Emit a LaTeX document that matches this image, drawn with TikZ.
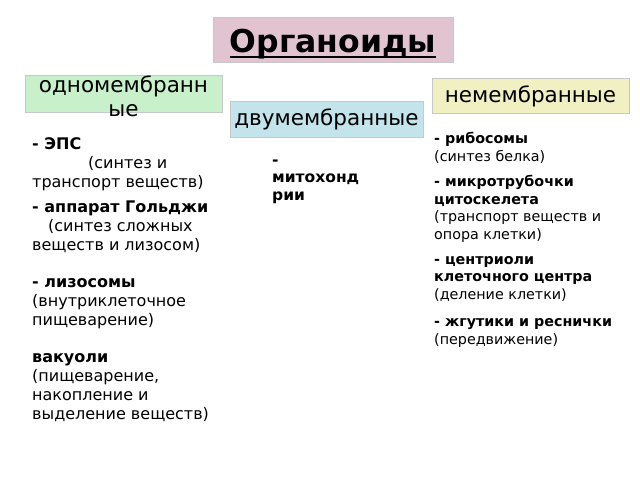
\documentclass[tikz,border=0pt]{standalone}
\usepackage{fontspec}
\setmainfont{DejaVu Sans}
\newcommand{\thickul}[1]{\setbox0\hbox{#1}\rlap{\rule[-6pt]{\wd0}{2pt}}\box0}
\definecolor{titlepink}{RGB}{226,196,208}
\definecolor{onegreen}{RGB}{200,240,202}
\definecolor{nonyellow}{RGB}{240,240,194}
\definecolor{twoblue}{RGB}{194,228,234}
\definecolor{boxline}{RGB}{200,200,200}

\begin{document}
\begin{tikzpicture}[x=1pt, y=-1pt,
		box/.style={draw=boxline, line width=0.8pt, inner sep=0pt},
		item/.style={anchor=base west, align=left, inner sep=0pt}]
		\useasboundingbox[fill=white] (0, 0) rectangle (640, 480);

		% headings
		\node[box, fill=titlepink, minimum width=240pt, minimum height=45pt] (title) at (333, 39.5) {};
		\node[anchor=base, inner sep=0pt, font=\fontsize{31.5}{34}\selectfont\bfseries] (titletxt) at (333, 52) {\thickul{Органоиды}};

		\node[box, fill=onegreen, minimum width=197pt, minimum height=37pt] (odno) at (123.5, 93.5) {};
		\node[align=center, font=\fontsize{21.5}{24}\selectfont] (odnotxt) at (123.5, 96) {одномембранн\\ые};

		\node[box, fill=nonyellow, minimum width=197pt, minimum height=35pt] (ne) at (530.5, 95.5) {};
		\node[font=\fontsize{21.5}{24}\selectfont] (netxt) at (530.5, 96.5) {немембранные};

		\node[box, fill=twoblue, minimum width=193pt, minimum height=36pt] (dvu) at (326.5, 119) {};
		\node[font=\fontsize{21.5}{24}\selectfont] (dvutxt) at (326.5, 119.5) {двумембранные};

		% one membrane (anchored at the last line)
		\node[item, font=\fontsize{16}{19}\selectfont] (eps) at (32, 187)
			{\textbf{- ЭПС}\\\hspace*{56pt}(синтез и\\транспорт веществ)};
		\node[item, font=\fontsize{16}{19}\selectfont] (golgi) at (32, 250)
			{\textbf{- аппарат Гольджи}\\\hspace*{16pt}(синтез сложных\\веществ и лизосом)};
		\node[item, font=\fontsize{16}{19}\selectfont] (lizo) at (32, 325)
			{\textbf{- лизосомы}\\(внутриклеточное\\пищеварение)};
		\node[item, font=\fontsize{16}{19}\selectfont] (vak) at (32, 419)
			{\textbf{вакуоли}\\(пищеварение,\\накопление и\\выделение веществ)};

		% two membranes
		\node[item, font=\fontsize{15.5}{17.5}\selectfont\bfseries] (mito) at (272, 200)
			{-\\митохонд\\рии};

		% no membrane
		\node[item, font=\fontsize{14.3}{17.5}\selectfont] (ribo) at (434, 161)
			{\textbf{- рибосомы}\\(синтез белка)};
		\node[item, font=\fontsize{14.3}{17.5}\selectfont] (mikro) at (434, 239)
			{\textbf{- микротрубочки}\\\textbf{цитоскелета}\\(транспорт веществ и\\опора клетки)};
		\node[item, font=\fontsize{14.3}{17.5}\selectfont] (centr) at (434, 299)
			{\textbf{- центриоли}\\\textbf{клеточного центра}\\(деление клетки)};
		\node[item, font=\fontsize{14.3}{17.5}\selectfont] (zhgut) at (434, 344)
			{\textbf{- жгутики и реснички}\\(передвижение)};

	\end{tikzpicture}
\end{document}
